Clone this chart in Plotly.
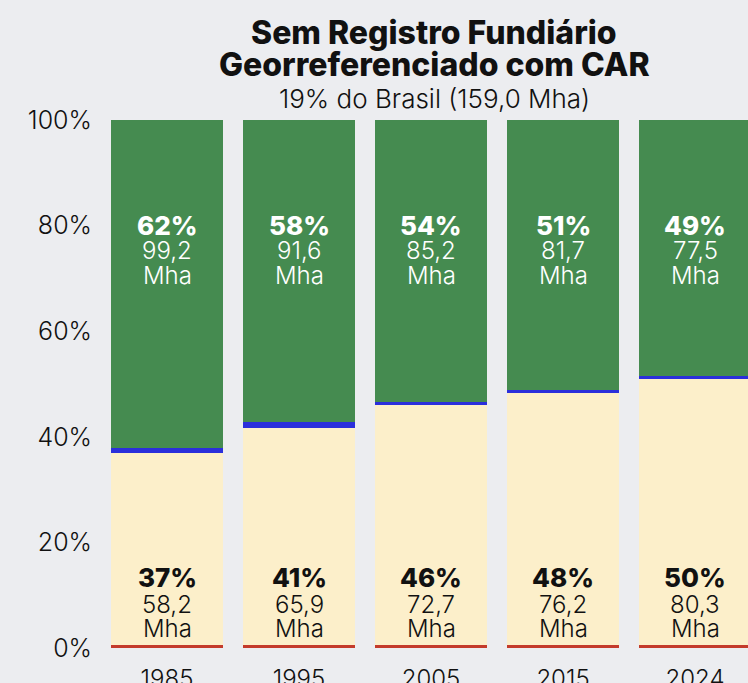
import plotly.graph_objects as go

# Area (Mha) by year for land without georeferenced tenure registry but with CAR
years = ["1985", "1995", "2005", "2015", "2024"]
red_mha = [0.9, 0.9, 0.9, 0.9, 0.9]
beige_mha = [58.2, 65.9, 72.7, 76.2, 80.3]
blue_mha = [1.5, 1.8, 0.6, 0.9, 0.9]
green_mha = [99.2, 91.6, 85.2, 81.7, 77.5]

# Shares printed on the bars
beige_pct = [37, 41, 46, 48, 50]
green_pct = [62, 58, 54, 51, 49]

y_ticks = [0, 20, 40, 60, 80, 100]
y_tick_text = ["0%", "20%", "40%", "60%", "80%", "100%"]

FONT = "Inter"
BG = "#ECEDF0"
GREEN = "#458B50"
BEIGE = "#FCEFCA"
BLUE = "#2B2FDB"
RED = "#C43B2B"
INK = "#111111"

# each bar is drawn as shares of its own total
totals = [r + b + bl + g for r, b, bl, g in zip(red_mha, beige_mha, blue_mha, green_mha)]


def share(vals):
    return [v / t * 100 for v, t in zip(vals, totals)]


fig = go.Figure()
for vals, color in [(red_mha, RED), (beige_mha, BEIGE), (blue_mha, BLUE), (green_mha, GREEN)]:
    fig.add_trace(go.Bar(x=years, y=share(vals), marker=dict(color=color, line=dict(width=0)),
                         hoverinfo="skip", showlegend=False))


def fmt(v):
    return f"{v:.1f}".replace(".", ",")


annotations = []


def label_block(i, pct, mha, ys, color):
    lines = [(f"{pct}%", 800, 26, ys[0]), (fmt(mha), 300, 24, ys[1]), ("Mha", 300, 24, ys[2])]
    for text, weight, size, y in lines:
        annotations.append(dict(
            x=i, y=y, xref="x", yref="y", text=text, showarrow=False,
            yanchor="middle", xanchor="center",
            font=dict(family=FONT, size=size, color=color, weight=weight),
        ))


for i in range(len(years)):
    label_block(i, green_pct[i], green_mha[i], (80.1, 75.2, 70.5), "white")
    label_block(i, beige_pct[i], beige_mha[i], (13.3, 8.3, 3.6), INK)

# Title block, centred over the full row of bars
title_x = 0.5147
title_lines = [
    ("Sem Registro Fundiário", 800, 32, 1.165),
    ("Georreferenciado com CAR", 800, 32, 1.106),
    ("19% do Brasil (159,0 Mha)", 300, 26, 1.040),
]
for text, weight, size, y in title_lines:
    annotations.append(dict(
        x=title_x, xref="paper", y=y, yref="paper", text=text, showarrow=False,
        xanchor="center", yanchor="middle",
        font=dict(family=FONT, size=size, color=INK, weight=weight),
    ))

fig.update_layout(
    width=748, height=683,
    margin=dict(l=101, r=0, t=120, b=35, autoexpand=False),
    paper_bgcolor=BG, plot_bgcolor=BG,
    barmode="stack", bargap=0.1515,
    annotations=annotations,
    xaxis=dict(type="category", range=[-0.5, 4.4015], showgrid=False, zeroline=False,
               showline=False, ticks="", automargin=False, ticklabelstandoff=14,
               tickfont=dict(family=FONT, size=24, color=INK, weight=300)),
    yaxis=dict(range=[0, 100], tickvals=y_ticks, ticktext=y_tick_text, showgrid=False,
               zeroline=False, showline=False, ticks="", automargin=False,
               ticklabelstandoff=8,
               tickfont=dict(family=FONT, size=25, color=INK, weight=300)),
)

fig.write_html("out.html")
